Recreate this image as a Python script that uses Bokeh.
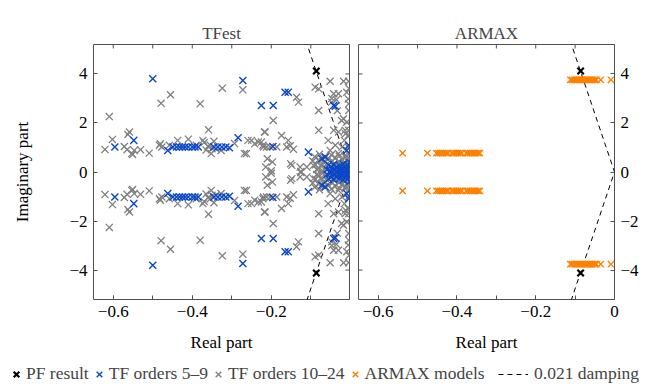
import numpy as np
from bokeh.plotting import figure
from bokeh.layouts import column, row
from bokeh.models import (FixedTicker, CustomJSTickFormatter, Range1d, Legend, LegendItem)
from bokeh.embed import file_html
from bokeh.resources import INLINE

# ---------------- data (upper half-plane; poles come in conjugate pairs) ----------------
pf_re = [-0.086]
pf_im = [4.12]

tf_low_re = [-0.500, -0.272, -0.225, -0.195, -0.165, -0.157, -0.042, -0.038,
             -0.596, -0.548, -0.462, -0.449, -0.440, -0.432, -0.425, -0.418, -0.410,
             -0.400, -0.393, -0.385, -0.345, -0.335, -0.325, -0.315, -0.306, -0.284,
             -0.196, -0.106, -0.063, -0.072, -0.004, -0.009,
             -0.058, -0.055, -0.050, -0.047, -0.043, -0.040, -0.036, -0.033, -0.030,
             -0.027, -0.024, -0.021, -0.018, -0.015, -0.012, -0.009, -0.006, -0.004,
             -0.002, -0.001]
tf_low_im = [3.80, 3.73, 2.71, 2.71, 3.25, 3.25, 2.71, 2.68,
             1.02, 1.29, 0.88, 1.02, 1.02, 1.02, 1.02, 1.02, 1.02,
             1.02, 1.02, 1.02, 1.02, 1.02, 1.02, 1.02, 0.99, 1.40,
             1.04, 0.81, 0.61, 0.54, 1.09, 0.88,
             0.10, 0.28, 0.05, 0.18, 0.30, 0.08, 0.20, 0.02, 0.12,
             0.26, 0.06, 0.16, 0.32, 0.04, 0.22, 0.10, 0.28, 0.06,
             0.18, 0.38]

tf_high_re = [-0.610, -0.559, -0.563, -0.602, -0.621, -0.572, -0.565, -0.553, -0.547, -0.531,
              -0.551, -0.509, -0.481, -0.477, -0.455, -0.479, -0.483, -0.458, -0.437,
              -0.324, -0.272, -0.380, -0.359, -0.410, -0.390, -0.373,
              -0.370, -0.360, -0.350, -0.365, -0.355, -0.345, -0.340, -0.352, -0.327,
              -0.293, -0.263, -0.259, -0.242, -0.225, -0.217, -0.220, -0.268, -0.250,
              -0.233, -0.221, -0.212, -0.214, -0.210, -0.197, -0.200,
              -0.195, -0.136, -0.131, -0.216, -0.174, -0.157, -0.186, -0.161, -0.203,
              -0.152, -0.144, -0.148, -0.127, -0.110, -0.093, -0.080, -0.072, -0.151, -0.125,
              -0.089, -0.080, -0.051, -0.017, -0.004, -0.042, -0.030, -0.009, -0.004, -0.004,
              -0.080, -0.017, -0.009, -0.022, -0.080, -0.042, -0.030, -0.013, -0.004, -0.047,
              -0.035, -0.047, -0.033, -0.005, -0.003, -0.005, -0.012, -0.015, -0.005, -0.056,
              -0.051, -0.038, -0.021, -0.030, -0.013,
              -0.095, -0.090, -0.088, -0.085, -0.080, -0.078, -0.075, -0.070, -0.068, -0.065,
              -0.062, -0.058, -0.055, -0.052, -0.050, -0.048, -0.045, -0.042, -0.040, -0.038,
              -0.035, -0.032, -0.030, -0.028, -0.025, -0.022, -0.020, -0.018, -0.015, -0.012,
              -0.010, -0.008, -0.006, -0.004, -0.003, -0.002, -0.001]
tf_high_im = [2.26, 1.63, 1.53, 1.33, 0.92, 1.04, 0.91, 0.75, 0.88, 0.91,
              0.71, 0.77, 1.15, 1.02, 3.15, 2.80, 1.09, 1.09, 1.29,
              3.42, 3.35, 2.78, 1.72, 1.34, 1.09, 1.29,
              1.20, 1.05, 0.95, 0.90, 1.10, 1.25, 0.95, 0.75, 0.88,
              1.16, 0.75, 1.29, 1.15, 1.22, 1.63, 1.02, 0.75, 1.29,
              1.22, 1.09, 1.02, 0.20, 0.54, 0.41, 0.05,
              2.10, 3.05, 2.85, 1.63, 1.49, 1.29, 1.02, 1.02, 1.02,
              1.07, 0.93, 0.27, 0.20, 0.20, 0.27, 0.14, 0.27, 0.34, 0.02,
              3.46, 3.39, 3.70, 3.70, 3.70, 3.19, 3.19, 3.25, 2.78, 2.51,
              2.51, 2.17, 2.03, 2.10, 1.70, 1.70, 1.63, 1.70, 1.70, 3.00,
              2.95, 2.85, 2.50, 2.98, 3.40, 1.49, 1.56, 1.29, 1.02, 1.29,
              0.88, 1.09, 1.02, 0.75, 0.68,
              0.45, 0.62, 0.30, 0.10, 0.50, 0.72, 0.25, 0.05, 0.40, 0.60,
              0.15, 0.35, 0.55, 0.02, 0.25, 0.70, 0.45, 0.12, 0.32, 0.58,
              0.05, 0.22, 0.42, 0.65, 0.15, 0.30, 0.50, 0.08, 0.38, 0.60,
              0.20, 0.45, 0.03, 0.30, 0.72, 0.12, 0.55]

armax_re = [-0.538, -0.475, -0.452, -0.447, -0.442, -0.437, -0.432, -0.427, -0.423,
            -0.413, -0.408, -0.403, -0.398, -0.393, -0.388,
            -0.376, -0.371, -0.366, -0.361, -0.356, -0.351, -0.346, -0.342,
            -0.112, -0.107, -0.102, -0.098, -0.094, -0.090, -0.086, -0.082, -0.078,
            -0.074, -0.070, -0.066, -0.062, -0.058, -0.054, -0.050, -0.046, -0.035, -0.009]
armax_im = [0.77, 0.77, 0.77, 0.77, 0.77, 0.77, 0.77, 0.77, 0.77,
            0.77, 0.77, 0.77, 0.77, 0.77, 0.77,
            0.77, 0.77, 0.77, 0.77, 0.77, 0.77, 0.77, 0.77,
            3.76, 3.76, 3.76, 3.76, 3.76, 3.76, 3.76, 3.76, 3.76,
            3.76, 3.76, 3.76, 3.76, 3.76, 3.76, 3.76, 3.76, 3.76, 3.76]

damping_ratio = 0.021
damping_im = [-5.6, 0.0, 5.6]

x_limits = [-0.65, 0.0]
y_limits = [-5.2, 5.2]
x_major_left = [-0.6, -0.4, -0.2]
x_major_right = [-0.6, -0.4, -0.2, 0.0]
x_minor = [-0.6, -0.5, -0.4, -0.3, -0.2, -0.1, 0.0]
y_major = [-4, -2, 0, 2, 4]


def conj(re, im):
    return list(re) + list(re), list(im) + [-v for v in im]


pf_x, pf_y = conj(pf_re, pf_im)
lo_x, lo_y = conj(tf_low_re, tf_low_im)
hi_x, hi_y = conj(tf_high_re, tf_high_im)
ar_x, ar_y = conj(armax_re, armax_im)
slope = damping_ratio / np.sqrt(1 - damping_ratio ** 2)
dm_y = damping_im
dm_x = [-slope * abs(v) for v in damping_im]

FONT = "Liberation Serif"
FRAME = "#505050"
BLUE = "#0a47c8"
GRAY = "#808080"
ORANGE = "#ff8000"

xfmt = CustomJSTickFormatter(code="""
const s = Math.abs(tick) < 1e-9 ? "0" : tick.toFixed(1);
return s.replace("-", "\\u2212");
""")
yfmt = CustomJSTickFormatter(code="""
const s = Math.abs(tick) < 1e-9 ? "0" : tick.toFixed(0);
return s.replace("-", "\\u2212");
""")


def style_axis(ax):
    ax.axis_line_color = None
    ax.major_tick_in = 4
    ax.major_tick_out = 0
    ax.minor_tick_in = 4
    ax.minor_tick_out = 0
    ax.major_tick_line_color = FRAME
    ax.minor_tick_line_color = FRAME
    ax.major_label_text_font = FONT
    ax.major_label_text_font_size = "17px"
    ax.major_label_text_color = "black"
    ax.axis_label_text_font = FONT
    ax.axis_label_text_font_size = "17px"
    ax.axis_label_text_font_style = "normal"
    ax.axis_label_text_color = "black"


def panel(title, x_end, yside, xmajor, bl, br):
    p = figure(frame_width=256, frame_height=255,
               x_range=Range1d(x_limits[0], x_end), y_range=Range1d(*y_limits),
               y_axis_location=yside, title=title,
               output_backend="svg", toolbar_location=None,
               min_border_left=bl, min_border_right=br,
               min_border_top=44, min_border_bottom=62)
    p.grid.visible = False
    p.outline_line_color = FRAME
    p.outline_line_width = 1
    p.title.text_font = FONT
    p.title.text_font_size = "17px"
    p.title.text_font_style = "normal"
    p.title.align = "center"
    p.title.standoff = 4

    xa = p.xaxis[0]
    xa.ticker = FixedTicker(ticks=xmajor, minor_ticks=x_minor)
    xa.formatter = xfmt
    xa.axis_label = "Real part"
    xa.major_label_standoff = 6
    xa.axis_label_standoff = 13
    style_axis(xa)

    ya = p.yaxis[0]
    ya.ticker = FixedTicker(ticks=y_major, minor_ticks=[])
    ya.formatter = yfmt
    ya.major_label_standoff = 6
    style_axis(ya)

    # mirrored inner ticks on the opposite sides of the frame
    tx = [t for t in x_minor if x_limits[0] <= t <= x_end]
    p.scatter(tx, [y_limits[1]] * len(tx), marker="dash", angle=np.pi / 2,
              size=8, line_color=FRAME, line_width=1)
    xe = x_end if yside == "left" else x_limits[0]
    p.scatter([xe] * len(y_major), y_major, marker="dash", angle=0,
              size=8, line_color=FRAME, line_width=1)

    p.line(dm_x, dm_y, line_color="black", line_width=1, line_dash="5 4")
    return p, ya


p1, ya1 = panel("TFest", -0.002, "left", x_major_left, 93, 4)
ya1.axis_label = "Imaginary part"
ya1.axis_label_standoff = 34
p1.scatter(hi_x, hi_y, marker="x", size=10, line_color=GRAY, line_width=1.3)
p1.scatter(lo_x, lo_y, marker="x", size=10, line_color=BLUE, line_width=1.4)
p1.scatter(pf_x, pf_y, marker="x", size=9, line_color="black", line_width=2.2)

p2, ya2 = panel("ARMAX", x_limits[1], "right", x_major_right, 5, 48)
p2.scatter(ar_x, ar_y, marker="x", size=9, line_color=ORANGE, line_width=1.4)
p2.scatter(pf_x, pf_y, marker="x", size=9, line_color="black", line_width=2.2)

# legend strip (proxy renderers sit outside its visible range)
leg = figure(width=662, height=26, x_range=Range1d(10, 11), y_range=Range1d(10, 11),
             output_backend="svg", toolbar_location=None, min_border=0)
leg.axis.visible = False
leg.grid.visible = False
leg.outline_line_color = None
r_pf = leg.scatter(pf_x, pf_y, marker="x", size=8, line_color="black", line_width=2.2)
r_lo = leg.scatter(lo_x, lo_y, marker="x", size=9, line_color=BLUE, line_width=1.4)
r_hi = leg.scatter(hi_x, hi_y, marker="x", size=9, line_color=GRAY, line_width=1.4)
r_ar = leg.scatter(ar_x, ar_y, marker="x", size=9, line_color=ORANGE, line_width=1.4)
r_dm = leg.line(dm_x, dm_y, line_color="black", line_width=1, line_dash="5 4")

common = dict(orientation="horizontal", label_text_font=FONT, label_text_font_size="17.5px",
              padding=0, margin=0, border_line_color=None, background_fill_alpha=0)
legA = Legend(items=[LegendItem(label="PF result", renderers=[r_pf]),
                     LegendItem(label="TF orders 5\u20139", renderers=[r_lo]),
                     LegendItem(label="TF orders 10\u201324", renderers=[r_hi]),
                     LegendItem(label="ARMAX models", renderers=[r_ar])],
              location=(6, 3), glyph_width=20, glyph_height=20, label_standoff=0,
              spacing=0, **common)
legB = Legend(items=[LegendItem(label="0.021 damping", renderers=[r_dm])],
              location=(498, 3), glyph_width=30, glyph_height=20, label_standoff=6,
              spacing=0, **common)
leg.add_layout(legA, "center")
leg.add_layout(legB, "center")

layout = column(row(p1, p2), leg)
open("out.html", "w").write(file_html(layout, INLINE))
